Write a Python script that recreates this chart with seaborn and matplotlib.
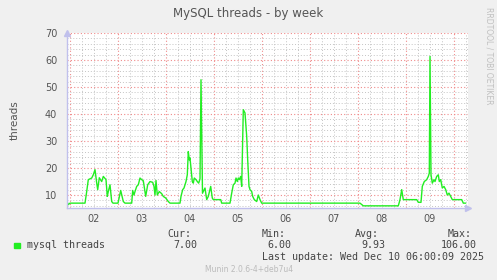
import matplotlib
matplotlib.use("Agg")
import matplotlib.pyplot as plt
import matplotlib.ticker as mticker
import seaborn as sns
import pandas as pd

# hours since Dec 1 00:00
hours = [22.35, 23, 24, 31.5, 32.35, 33.15, 34.85, 35.65, 36.5, 37.35, 37.85, 38.65,
         39.85, 40.65, 42, 42.65, 43.15, 44, 44.85, 45.5, 48, 49.35, 50.65, 51.5,
         54.85, 55.35, 56, 56.5, 57.35, 58.15, 59, 59.85, 60.65, 61.85, 62.85, 64,
         65.35, 66, 66.5, 67, 67.65, 68.65, 69.85, 70.65, 71.85, 73.15, 74, 79,
         79.5, 80.35, 81, 82, 82.65, 83.15, 83.65, 84, 84.5, 85.15, 85.65, 86.15,
         87, 87.65, 88.35, 89, 89.5, 90.25, 91.5, 92.35, 93.15, 94.35, 95.15, 95.65,
         99.35, 99.85, 104, 104.85, 105.65, 106.5, 107, 107.65, 108.15, 108.65, 109.35, 109.85,
         110.65, 111.5, 112.35, 112.85, 113.5, 114, 114.85, 115.35, 116.15, 117.35, 118.15, 119,
         119.85, 169, 170.65, 188.15, 189, 189.85, 190.65, 197.35, 198.15, 199.5, 200.15, 201.15,
         202.35, 203.15, 203.65, 204, 204.5, 205.15, 206, 206.5, 207.35, 208.15, 208.65, 209.35,
         210.15, 211, 211.85, 212.65, 213.5, 214.35, 215.15, 219.85, 220.65, 221.85]
threads = [8.3, 6.4, 7.0, 7.0, 11.3, 15.7, 16.3, 17.5, 19.4, 14.5, 12.0, 16.4,
           15.0, 16.9, 15.7, 9.5, 11.3, 13.8, 7.6, 7.0, 7.0, 11.7, 7.6, 7.0,
           7.0, 11.7, 10.0, 11.3, 13.2, 13.8, 16.3, 15.7, 15.3, 9.5, 13.8, 15.0,
           14.7, 13.2, 10.0, 15.4, 10.0, 11.3, 10.5, 9.5, 8.9, 7.6, 7.0, 7.0,
           9.5, 12.0, 12.6, 15.0, 17.5, 26.1, 23.0, 23.7, 20.0, 15.0, 14.4, 16.3,
           15.7, 15.0, 14.4, 16.0, 52.7, 10.7, 12.6, 8.3, 9.5, 13.2, 8.9, 8.3,
           8.3, 7.0, 7.0, 10.7, 13.8, 14.4, 16.3, 15.0, 16.3, 15.7, 16.9, 13.2,
           41.6, 40.4, 31.7, 23.0, 13.2, 12.0, 11.3, 9.5, 8.3, 7.6, 10.0, 8.3,
           7.0, 7.0, 6.0, 6.0, 8.3, 12.0, 8.3, 8.3, 7.3, 7.3, 13.2, 15.0,
           15.7, 16.9, 18.1, 61.3, 17.5, 14.4, 15.7, 15.0, 16.9, 17.5, 15.0, 15.7,
           12.6, 13.2, 12.0, 10.0, 10.7, 9.5, 8.3, 8.3, 7.0, 7.0]
day_labels = ["02", "03", "04", "05", "06", "07", "08", "09"]

df = pd.DataFrame({"hours": hours, "threads": threads})

BG = "#F0F0F0"
TXT = "#555555"
GREEN = "#22EE22"
W, H = 497, 280

sns.set_style("white")
plt.rcParams["font.family"] = ["DejaVu Sans"]

fig = plt.figure(figsize=(W / 100, H / 100), dpi=100, facecolor=BG)
L, R, T, B = 67, 468, 33, 208
ax = fig.add_axes([L / W, 1 - B / H, (R - L) / W, (B - T) / H])
ax.set_facecolor("white")

sns.lineplot(data=df, x="hours", y="threads", ax=ax, color=GREEN, lw=1.0)

ax.set_xlim(22.5, 223)
ax.set_ylim(5.2, 70)

# grid
ax.xaxis.set_major_locator(mticker.MultipleLocator(24))
ax.xaxis.set_minor_locator(mticker.MultipleLocator(6))
ax.xaxis.set_major_formatter(mticker.NullFormatter())

def day_fmt(v, pos):
    if abs(v % 24 - 12) < 0.01:
        idx = int(v // 24) - 1
        if 0 <= idx < len(day_labels):
            return day_labels[idx]
    return ""

ax.xaxis.set_minor_formatter(mticker.FuncFormatter(day_fmt))
ax.yaxis.set_major_locator(mticker.MultipleLocator(10))
ax.yaxis.set_minor_locator(mticker.MultipleLocator(2))

ax.grid(which="major", color="#F08A8A", linestyle=(0, (1, 2)), lw=0.8)
ax.grid(which="minor", color="#C4C4C4", linestyle=(0, (1, 2)), lw=0.7)
ax.set_axisbelow(True)

ax.tick_params(axis="both", which="both", length=0, colors=TXT, labelsize=7)
ax.tick_params(axis="x", which="minor", pad=4)
ax.tick_params(axis="y", pad=7)

for s in ["top", "right"]:
    ax.spines[s].set_visible(False)
for s in ["left", "bottom"]:
    ax.spines[s].set_color("#C0C0EC")
    ax.spines[s].set_linewidth(1.0)

# axis arrows
ax.plot([0], [1.0], marker="^", color="#C0C0EC", markersize=4, transform=ax.transAxes, clip_on=False)
ax.plot([1.0], [0], marker=">", color="#C0C0EC", markersize=4, transform=ax.transAxes, clip_on=False)

ax.set_xlabel("")
ax.set_ylabel("threads", color=TXT, fontsize=7.5, labelpad=18)

def px(x, y):
    return x / W, 1 - y / H

fig.text(*px(248, 13), "MySQL threads - by week", ha="center", va="center", color=TXT, fontsize=8.5)
fig.text(*px(489, 56), "RRDTOOL / TOBI OETIKER", ha="center", va="center", color="#C0C0C0",
         fontsize=5.5, rotation=-90)

mono = dict(family="DejaVu Sans Mono", fontsize=7.2, color="#444444", va="center", ha="left")
fig.patches.append(plt.Rectangle(px(14, 248), 6 / W, 5.5 / H, transform=fig.transFigure,
                                 color=GREEN, figure=fig))
fig.text(*px(26.7, 245.5), "mysql threads", **mono)
for x, s in [(167.7, "Cur:"), (261.7, "Min:"), (355, "Avg:"), (447.7, "Max:")]:
    fig.text(*px(x, 234), s, **mono)
for x, s in [(173.3, "7.00"), (267.7, "6.00"), (361, "9.93"), (441, "106.00")]:
    fig.text(*px(x, 245.5), s, **mono)
fig.text(*px(261.7, 257.3), "Last update: Wed Dec 10 06:00:09 2025", **mono)
fig.text(*px(249, 269.3), "Munin 2.0.6-4+deb7u4", ha="center", va="center", color="#BBBBBB", fontsize=5.5)

fig.savefig("out.png", dpi=100, facecolor=BG)
